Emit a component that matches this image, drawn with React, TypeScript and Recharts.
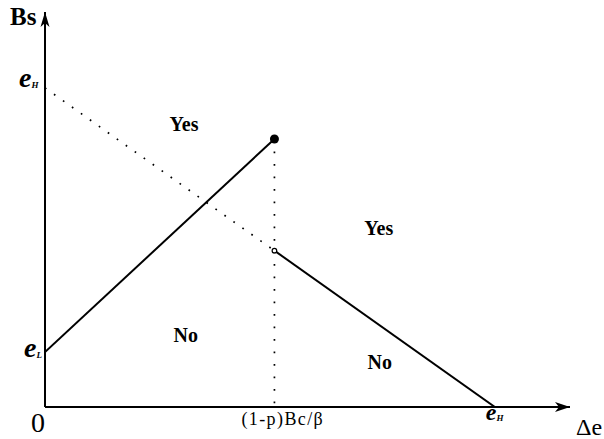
import { ComposedChart, Line, XAxis, YAxis, ReferenceDot, Label } from 'recharts';

const SERIF = '"Liberation Serif", "Times New Roman", serif';

// axis extents (data units)
const X_MAX = 11.67;
const Y_MAX = 12.38;

// key values
const X_MID = 5.1; // (1-p)Bc/β
const X_EH = 10;
const Y_EH = 10;
const Y_EL = 1.72;
const Y_PEAK = 8.4;
const Y_BREAK = 4.9;

const xTicks = [0, X_MID, X_EH];
const yTicks = [Y_EL, Y_EH];

const riseLine = [
  { x: 0, y: Y_EL },
  { x: X_MID, y: Y_PEAK },
];
const fallDotted = [
  { x: 0, y: Y_EH },
  { x: X_MID, y: Y_BREAK },
];
const fallSolid = [
  { x: X_MID, y: Y_BREAK },
  { x: X_EH, y: 0 },
];
const dropDotted = [
  { x: X_MID, y: Y_PEAK },
  { x: X_MID, y: 0 },
];

const regionLabels = [
  { text: 'Yes', x: 3.09, y: 8.87 },
  { text: 'Yes', x: 7.42, y: 5.61 },
  { text: 'No', x: 3.13, y: 2.26 },
  { text: 'No', x: 7.44, y: 1.41 },
];

function XTick({ x, y, payload }: any) {
  const v = payload.value;
  if (v === 0) {
    return (
      <text x={x - 7} y={y + 25} textAnchor="middle" fontFamily={SERIF} fontSize={28} fill="#000">
        0
      </text>
    );
  }
  if (v === X_MID) {
    return (
      <text x={x - 33} y={y + 18} fontFamily={SERIF} fontSize={18} letterSpacing={1.4} fill="#000">
        (1-p)Bc/β
      </text>
    );
  }
  return (
    <text x={x - 9} y={y + 13} fontFamily={SERIF} fill="#000">
      <tspan fontSize={24} fontStyle="italic" fontWeight="bold">e</tspan>
      <tspan fontSize={9} fontStyle="italic" fontWeight="bold" dy={1}>H</tspan>
    </text>
  );
}

function YTick({ x, y, payload }: any) {
  const high = payload.value === Y_EH;
  return (
    <text x={x - (high ? 26 : 21)} y={y + (high ? -1 : 5)} fontFamily={SERIF} fill="#000">
      <tspan fontSize={28} fontStyle="italic" fontWeight="bold">e</tspan>
      <tspan fontSize={9} fontStyle="italic" fontWeight="bold" dy={1}>{high ? 'H' : 'L'}</tspan>
    </text>
  );
}

const arrowRight = ({ cx, cy }: any) => (
  <polygon points={`${cx},${cy} ${cx - 15},${cy - 5} ${cx - 11},${cy} ${cx - 15},${cy + 5}`} fill="#000" />
);
const arrowUp = ({ cx, cy }: any) => (
  <polygon points={`${cx},${cy} ${cx - 4.5},${cy + 15} ${cx},${cy + 11} ${cx + 4.5},${cy + 15}`} fill="#000" />
);

const peakDot = (p: any) =>
  p.index === 1 ? <circle key="peak" cx={p.cx} cy={p.cy} r={4.5} fill="#000" /> : <g key={`n${p.index}`} />;
const breakDot = (p: any) =>
  p.index === 0 ? (
    <circle key="brk" cx={p.cx} cy={p.cy} r={2.3} fill="#fff" stroke="#000" strokeWidth={1.2} />
  ) : (
    <g key={`b${p.index}`} />
  );

export default function App() {
  return (
    <div style={{ position: 'absolute', left: 0, top: 0, background: '#fff' }}>
      <ComposedChart width={604} height={439} margin={{ top: 12, right: 34, bottom: 0, left: 0 }}>
        <XAxis
          type="number"
          dataKey="x"
          domain={[0, X_MAX]}
          ticks={xTicks}
          interval={0}
          allowDataOverflow
          height={32}
          axisLine={{ stroke: '#000', strokeWidth: 2 }}
          tickLine={false}
          tickSize={0}
          tickMargin={0}
          tick={<XTick />}
        >
          <Label
            content={({ viewBox }: any) => (
              <text x={viewBox.x + viewBox.width + 6} y={viewBox.y + 28} fontFamily={SERIF} fontSize={24} fill="#000">
                Δe
              </text>
            )}
          />
        </XAxis>
        <YAxis
          type="number"
          dataKey="y"
          domain={[0, Y_MAX]}
          ticks={yTicks}
          interval={0}
          allowDataOverflow
          width={45}
          axisLine={{ stroke: '#000', strokeWidth: 2 }}
          tickLine={false}
          tickSize={0}
          tickMargin={0}
          tick={<YTick />}
        >
          <Label
            content={({ viewBox }: any) => (
              <text x={viewBox.x + 10} y={viewBox.y + 13} fontFamily={SERIF} fontSize={25} fontWeight="bold" fill="#000">
                Bs
              </text>
            )}
          />
        </YAxis>

        <Line data={fallDotted} dataKey="y" type="linear" stroke="#000" strokeWidth={1.7} strokeDasharray="1.7 9.3" dot={false} isAnimationActive={false} />
        <Line data={dropDotted} dataKey="y" type="linear" stroke="#000" strokeWidth={1.7} strokeDasharray="1.7 10.8" dot={false} isAnimationActive={false} />
        <Line data={riseLine} dataKey="y" type="linear" stroke="#000" strokeWidth={2} dot={peakDot} isAnimationActive={false} />
        <Line data={fallSolid} dataKey="y" type="linear" stroke="#000" strokeWidth={2} dot={breakDot} isAnimationActive={false} />

        <ReferenceDot x={X_MAX} y={0} r={0} ifOverflow="visible" shape={arrowRight} />
        <ReferenceDot x={0} y={Y_MAX} r={0} ifOverflow="visible" shape={arrowUp} />

        {regionLabels.map((l, i) => (
          <ReferenceDot
            key={i}
            x={l.x}
            y={l.y}
            r={0}
            ifOverflow="visible"
            shape={({ cx, cy }: any) => (
              <text x={cx} y={cy} textAnchor="middle" dominantBaseline="central" fontFamily={SERIF} fontSize={20} fontWeight="bold" fill="#000">
                {l.text}
              </text>
            )}
          />
        ))}
      </ComposedChart>
    </div>
  );
}
